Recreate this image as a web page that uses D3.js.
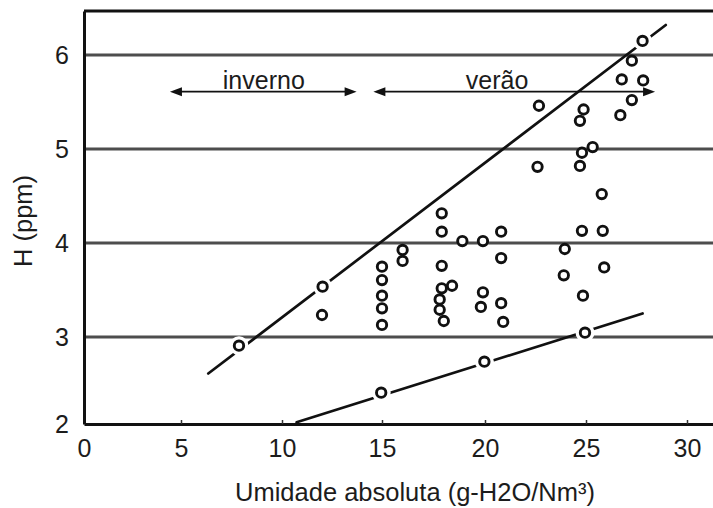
<!DOCTYPE html>
<html>
<head>
<meta charset="utf-8">
<script src="https://cdn.jsdelivr.net/npm/d3@7"></script>
<style>
  html, body { margin: 0; padding: 0; background: #fff; }
  svg { display: block; }
  text { font-family: "Liberation Sans", Arial, Helvetica, sans-serif; fill: #1c1c1c; }
</style>
</head>
<body>
<svg id="chart" width="713" height="508"></svg>
<script>
// Axis ticks
const xTickValues = [0, 5, 10, 15, 20, 25, 30];
const yTickValues = [2, 3, 4, 5, 6];
const gridValues = [3, 4, 5, 6];

// Measurements: absolute humidity (g-H2O/Nm³) and H (ppm)
const humidity = [
  7.87, 12.03, 12.0,
  15.0, 15.0, 15.0, 15.0, 15.0,
  16.0, 16.0,
  17.9, 17.9, 17.9, 17.9, 18.4, 17.8, 17.8, 18.0,
  18.9, 19.9, 20.8, 20.8, 19.9, 19.8, 20.8, 20.9,
  22.67, 22.6, 23.95, 23.9,
  24.88, 24.7, 25.33, 24.8, 24.7, 25.78, 24.8, 25.83, 25.9, 24.85,
  26.7, 26.77, 27.27, 27.27, 27.83, 27.8,
  14.96, 19.97, 24.95
];
const hydrogen = [
  2.90, 3.535, 3.234,
  3.748, 3.606, 3.44, 3.305, 3.128,
  3.926, 3.809,
  4.316, 4.12, 3.757, 3.518, 3.545, 3.40, 3.29, 3.17,
  4.02, 4.02, 4.12, 3.84, 3.475, 3.32, 3.36, 3.16,
  5.46, 4.81, 3.936, 3.656,
  5.42, 5.30, 5.02, 4.96, 4.82, 4.52, 4.13, 4.13, 3.74, 3.44,
  5.36, 5.74, 5.52, 5.94, 5.73, 6.15,
  2.36, 2.716, 3.046
];

// Envelope lines (start and end points)
const upperLineX = [6.35, 28.95];
const upperLineY = [2.58, 6.32];
const lowerLineX = [10.73, 27.8];
const lowerLineY = [2.02, 3.25];

// Season ranges
const seasonLabels = ["inverno", "verão"];
const seasonStart = [4.43, 14.57];
const seasonEnd = [13.73, 28.42];
const seasonLabelX = [9.1, 20.6];
const seasonLevel = 5.61;

const svg = d3.select("#chart");
const W = 713;
const plotLeft = 84, plotTop = 11, plotBottom = 424;

// Piecewise scales follow the printed grid of the figure
const x = d3.scaleLinear()
  .domain([0, 5, 10, 15, 20, 25, 30, 31.3])
  .range([plotLeft, 181, 282, 382, 485, 586, 687, W]);
const y = d3.scaleLinear()
  .domain([2, 3, 4, 5, 6, 6.47])
  .range([plotBottom, 337, 243, 149, 55, plotTop]);

// Horizontal grid
svg.append("g")
  .selectAll("line")
  .data(gridValues)
  .join("line")
  .attr("x1", plotLeft).attr("x2", W)
  .attr("y1", d => y(d)).attr("y2", d => y(d))
  .attr("stroke", "#4d4d4d")
  .attr("stroke-width", 3);

// Top border
svg.append("line")
  .attr("x1", plotLeft).attr("x2", W)
  .attr("y1", y(6.47)).attr("y2", y(6.47))
  .attr("stroke", "#111").attr("stroke-width", 2.8);

// Bottom axis
const xAxis = d3.axisBottom(x)
  .tickValues(xTickValues)
  .tickSizeInner(-4)
  .tickSizeOuter(0)
  .tickPadding(15)
  .tickFormat(d3.format("d"));
const gx = svg.append("g")
  .attr("transform", `translate(0,${plotBottom})`)
  .call(xAxis);
gx.select(".domain").attr("stroke", "#111").attr("stroke-width", 3);
gx.selectAll(".tick line").attr("stroke", "#333").attr("stroke-width", 1.5);
gx.selectAll(".tick text")
  .attr("font-size", 25)
  .style("font-family", "'Liberation Sans', Arial, sans-serif")
  .attr("fill", "#1c1c1c");

// Left axis
const yAxis = d3.axisLeft(y)
  .tickValues(yTickValues)
  .tickSize(0)
  .tickPadding(15)
  .tickFormat(d3.format("d"));
const gy = svg.append("g")
  .attr("transform", `translate(${plotLeft},0)`)
  .call(yAxis);
gy.select(".domain").attr("stroke", "#111").attr("stroke-width", 3);
gy.selectAll(".tick text")
  .attr("font-size", 25)
  .style("font-family", "'Liberation Sans', Arial, sans-serif")
  .attr("fill", "#1c1c1c");

// Envelope lines
const line = d3.line().x(d => x(d[0])).y(d => y(d[1]));
const fits = [
  d3.zip(upperLineX, upperLineY),
  d3.zip(lowerLineX, lowerLineY)
];
svg.append("g")
  .selectAll("path")
  .data(fits)
  .join("path")
  .attr("d", line)
  .attr("fill", "none")
  .attr("stroke", "#111")
  .attr("stroke-width", 2.7)
  .attr("stroke-linecap", "round");

// Distance in pixels from a point to a fitted segment
function pixelDistance(px, py, seg) {
  const ax = x(seg[0][0]), ay = y(seg[0][1]);
  const bx = x(seg[1][0]), by = y(seg[1][1]);
  const dx = bx - ax, dy = by - ay;
  let t = ((px - ax) * dx + (py - ay) * dy) / (dx * dx + dy * dy);
  t = Math.max(0, Math.min(1, t));
  return Math.hypot(px - (ax + t * dx), py - (ay + t * dy));
}

const points = d3.zip(humidity, hydrogen);
const onLine = points.filter(p =>
  fits.some(f => pixelDistance(x(p[0]), y(p[1]), f) < 7));

// White gap where the lines pass through a point
svg.append("g")
  .selectAll("circle")
  .data(onLine)
  .join("circle")
  .attr("cx", d => x(d[0]))
  .attr("cy", d => y(d[1]))
  .attr("r", 9.5)
  .attr("fill", "#fff");

// Measurement markers
svg.append("g")
  .selectAll("circle")
  .data(points)
  .join("circle")
  .attr("cx", d => x(d[0]))
  .attr("cy", d => y(d[1]))
  .attr("r", 4.7)
  .attr("fill", "#fff")
  .attr("stroke", "#111")
  .attr("stroke-width", 2.9);

// Season arrows
const gs = svg.append("g");
seasonLabels.forEach((label, i) => {
  const x0 = x(seasonStart[i]), x1 = x(seasonEnd[i]), yy = y(seasonLevel);
  const head = 12, half = 4.5;
  gs.append("line")
    .attr("x1", x0 + head - 1).attr("x2", x1 - head + 1)
    .attr("y1", yy).attr("y2", yy)
    .attr("stroke", "#111").attr("stroke-width", 1.6);
  gs.append("path")
    .attr("d", `M${x0},${yy}L${x0 + head},${yy - half}L${x0 + head},${yy + half}Z`)
    .attr("fill", "#111");
  gs.append("path")
    .attr("d", `M${x1},${yy}L${x1 - head},${yy - half}L${x1 - head},${yy + half}Z`)
    .attr("fill", "#111");
  gs.append("text")
    .attr("x", x(seasonLabelX[i]))
    .attr("y", yy - 3)
    .attr("text-anchor", "middle")
    .attr("font-size", 25)
    .text(label);
});

// Axis titles
svg.append("text")
  .attr("x", 415)
  .attr("y", 501)
  .attr("text-anchor", "middle")
  .attr("font-size", 25.5)
  .text("Umidade absoluta (g-H2O/Nm³)");

svg.append("text")
  .attr("transform", "translate(32,221) rotate(-90)")
  .attr("text-anchor", "middle")
  .attr("font-size", 25.5)
  .text("H (ppm)");
</script>
</body>
</html>
